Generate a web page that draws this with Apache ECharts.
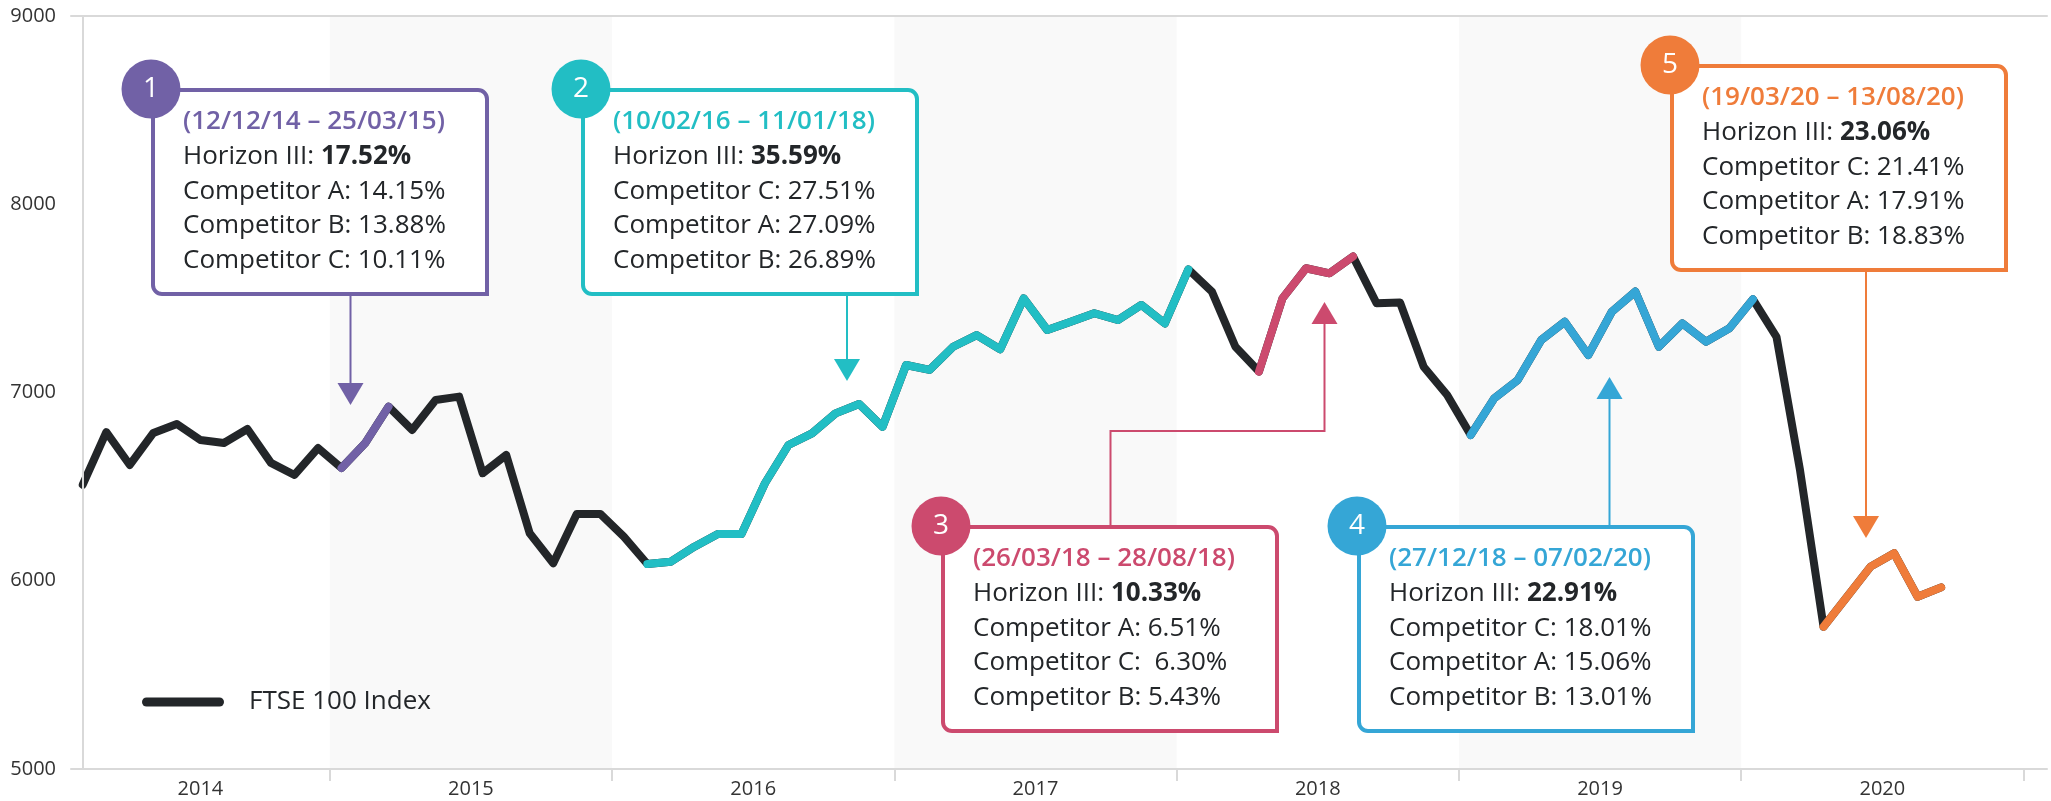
<!DOCTYPE html>
<html>
<head>
<meta charset="utf-8">
<script src="https://cdn.jsdelivr.net/npm/echarts@6.0.0/dist/echarts.min.js"></script>
<style>
  html, body { margin: 0; padding: 0; background: #fff; }
  #main { width: 2051px; height: 801px; }
</style>
</head>
<body>
<div id="main"></div>
<script>
  // FTSE 100, one point per month, Feb 2014 .. Sep 2020 (x = month index)
  const ftse = [
    6510, 6790, 6615, 6785, 6833, 6748, 6732, 6806, 6626, 6562, 6705,
    6599, 6730, 6925, 6801, 6960, 6978, 6571, 6668, 6252, 6093, 6355, 6355,
    6234, 6089, 6101, 6181, 6248, 6248, 6518, 6721, 6783, 6889, 6939, 6818,
    7146, 7120, 7243, 7305, 7230, 7500, 7332, 7376, 7421, 7385, 7465, 7367,
    7654, 7536, 7243, 7111, 7500, 7660, 7633, 7722, 7474, 7478, 7137, 6987,
    6774, 6969, 7066, 7279, 7376, 7199, 7429, 7536, 7243, 7367, 7270, 7341,
    7495, 7296, 6588, 5756, 5915, 6075, 6146, 5915, 5965
  ];

  // x axis: year labels and year boundaries (month index units)
  const years = ["2014", "2015", "2016", "2017", "2018", "2019", "2020"];
  const yearLabelAt = [5, 16.5, 28.5, 40.5, 52.5, 64.5, 76.5];
  const yearStarts = [10.5, 22.5, 34.5, 46.5, 58.5, 70.5, 82.5];
  const shadedYears = [[10.5, 22.5], [34.5, 46.5], [58.5, 70.5]];

  // highlighted periods
  const periodNo = ["1", "2", "3", "4", "5"];
  const periodStart = [11, 24, 50, 59, 74];
  const periodEnd = [13, 47, 54, 71, 79];
  const periodDates = [
    "(12/12/14 – 25/03/15)",
    "(10/02/16 – 11/01/18)",
    "(26/03/18 – 28/08/18)",
    "(27/12/18 – 07/02/20)",
    "(19/03/20 – 13/08/20)"
  ];
  const periodRows = [
    [["Horizon III: ", "17.52%"], ["Competitor A: ", "14.15%"], ["Competitor B: ", "13.88%"], ["Competitor C: ", "10.11%"]],
    [["Horizon III: ", "35.59%"], ["Competitor C: ", "27.51%"], ["Competitor A: ", "27.09%"], ["Competitor B: ", "26.89%"]],
    [["Horizon III: ", "10.33%"], ["Competitor A: ", "6.51%"], ["Competitor C:  ", "6.30%"], ["Competitor B: ", "5.43%"]],
    [["Horizon III: ", "22.91%"], ["Competitor C: ", "18.01%"], ["Competitor A: ", "15.06%"], ["Competitor B: ", "13.01%"]],
    [["Horizon III: ", "23.06%"], ["Competitor C: ", "21.41%"], ["Competitor A: ", "17.91%"], ["Competitor B: ", "18.83%"]]
  ];

  // look
  const FONT = "Open Sans";
  const INK = "#232629";
  const periodColors = ["#7161a6", "#22bec4", "#cc4a6e", "#35a6d6", "#ef7c3a"];
  const boxPos = [[153, 90], [583, 90], [943, 527], [1359, 527], [1672, 66]];
  const pointers = [
    { path: [[350.5, 294], [350.5, 384]], tip: [350.5, 405], dir: 1 },
    { path: [[847, 294], [847, 359]], tip: [847, 381], dir: 1 },
    { path: [[1110.5, 527], [1110.5, 431], [1324.5, 431], [1324.5, 323]], tip: [1324.5, 302], dir: -1 },
    { path: [[1609.5, 527], [1609.5, 399]], tip: [1609.5, 377], dir: -1 },
    { path: [[1866, 268], [1866, 516]], tip: [1866, 538], dir: 1 }
  ];

  // 标注框
  function callout(i) {
    const c = periodColors[i];
    const bx = boxPos[i][0], by = boxPos[i][1];
    const p = pointers[i];
    const tx = p.tip[0], ty = p.tip[1];
    const els = [];
    els.push({
      type: "polyline",
      z: 100,
      shape: { points: p.path },
      style: { stroke: c, lineWidth: 2, fill: null }
    });
    els.push({
      type: "polygon",
      z: 100,
      shape: { points: [[tx - 13, ty - p.dir * 22], [tx + 13, ty - p.dir * 22], [tx, ty]] },
      style: { fill: c }
    });
    els.push({
      type: "rect",
      z: 101,
      shape: { x: bx, y: by, width: 334, height: 204, r: [9, 9, 0, 9] },
      style: { fill: "#fff", stroke: c, lineWidth: 4 }
    });
    els.push({
      type: "circle",
      z: 102,
      shape: { cx: bx - 2, cy: by - 1, r: 29.5 },
      style: { fill: c }
    });
    els.push({
      type: "text",
      z: 103,
      x: bx - 2,
      y: by - 1,
      style: {
        text: periodNo[i], fill: "#fff", fontSize: 28, fontFamily: FONT,
        fontWeight: 500, align: "center", verticalAlign: "middle"
      }
    });
    els.push({
      type: "text",
      z: 103,
      x: bx + 30,
      y: by + 32,
      style: {
        text: periodDates[i], fill: c, fontSize: 26, fontFamily: FONT,
        fontWeight: 600, verticalAlign: "middle"
      }
    });
    periodRows[i].forEach(function(row, k) {
      els.push({
        type: "text",
        z: 103,
        x: bx + 30,
        y: by + 67 + k * 34.5,
        style: {
          text: "{a|" + row[0] + "}{b|" + row[1] + "}",
          verticalAlign: "middle",
          rich: {
            a: { fontSize: 26, fontFamily: FONT, fill: INK, fontWeight: 400 },
            b: { fontSize: 26, fontFamily: FONT, fill: INK, fontWeight: k === 0 ? 700 : 500 }
          }
        }
      });
    });
    return els;
  }

  const series = [
    {
      name: "bands",
      type: "line",
      data: [],
      z: 1,
      markArea: {
        silent: true,
        itemStyle: { color: "#f9f9f9" },
        data: shadedYears.map(b => [{ xAxis: b[0] }, { xAxis: b[1] }])
      }
    },
    {
      name: "FTSE 100 Index",
      type: "line",
      data: ftse.map((v, i) => [i, v]),
      showSymbol: false,
      color: INK,
      lineStyle: { width: 8, color: INK, cap: "round", join: "round" },
      z: 3
    }
  ];
  periodStart.forEach(function(s, i) {
    series.push({
      name: "period" + periodNo[i],
      type: "line",
      data: ftse.slice(s, periodEnd[i] + 1).map((v, k) => [s + k, v]),
      showSymbol: false,
      color: periodColors[i],
      lineStyle: { width: 8, color: periodColors[i], cap: "round", join: "round" },
      z: 4
    });
  });

  let graphics = [];
  for (let i = 0; i < periodNo.length; i++) graphics = graphics.concat(callout(i));

  const chart = echarts.init(document.getElementById("main"));
  chart.setOption({
    animation: false,
    backgroundColor: "#fff",
    grid: { left: 71, right: 4, top: 16, bottom: 32 },
    legend: {
      data: ["FTSE 100 Index"],
      left: 137,
      top: 684,
      selectedMode: false,
      icon: "path://M4.5,0H77.5A4.5,4.5,0,0,1,77.5,9H4.5A4.5,4.5,0,0,1,4.5,0Z",
      itemWidth: 82,
      itemHeight: 9,
      itemStyle: { borderWidth: 0 },
      textStyle: { fontSize: 26, fontFamily: FONT, color: INK, padding: [0, 0, 0, 20] }
    },
    xAxis: [
      {
        type: "value",
        min: -0.5,
        max: 83.5,
        z: 5,
        splitLine: { show: false },
        axisLine: { show: true, lineStyle: { color: "#d9d9d9", width: 2 } },
        axisTick: { show: true, customValues: yearStarts, length: 12, lineStyle: { color: "#d9d9d9", width: 2 } },
        axisLabel: {
          customValues: yearLabelAt,
          formatter: v => years[yearLabelAt.indexOf(v)],
          fontSize: 20, fontFamily: FONT, color: "#333", margin: 10
        }
      },
      {
        type: "value",
        position: "top",
        min: -0.5,
        max: 83.5,
        z: 5,
        splitLine: { show: false },
        axisLine: { show: true, lineStyle: { color: "#d9d9d9", width: 2 } },
        axisTick: { show: false },
        axisLabel: { show: false }
      }
    ],
    yAxis: {
      type: "value",
      min: 5000,
      max: 9000,
      interval: 1000,
      z: 5,
      splitLine: { show: false },
      axisLine: { show: true, lineStyle: { color: "#d9d9d9", width: 2 } },
      axisTick: { show: false },
      axisLabel: { fontSize: 20, fontFamily: FONT, color: "#333", margin: 15, formatter: v => String(v) }
    },
    series: series,
    graphic: graphics
  });
</script>
</body>
</html>
